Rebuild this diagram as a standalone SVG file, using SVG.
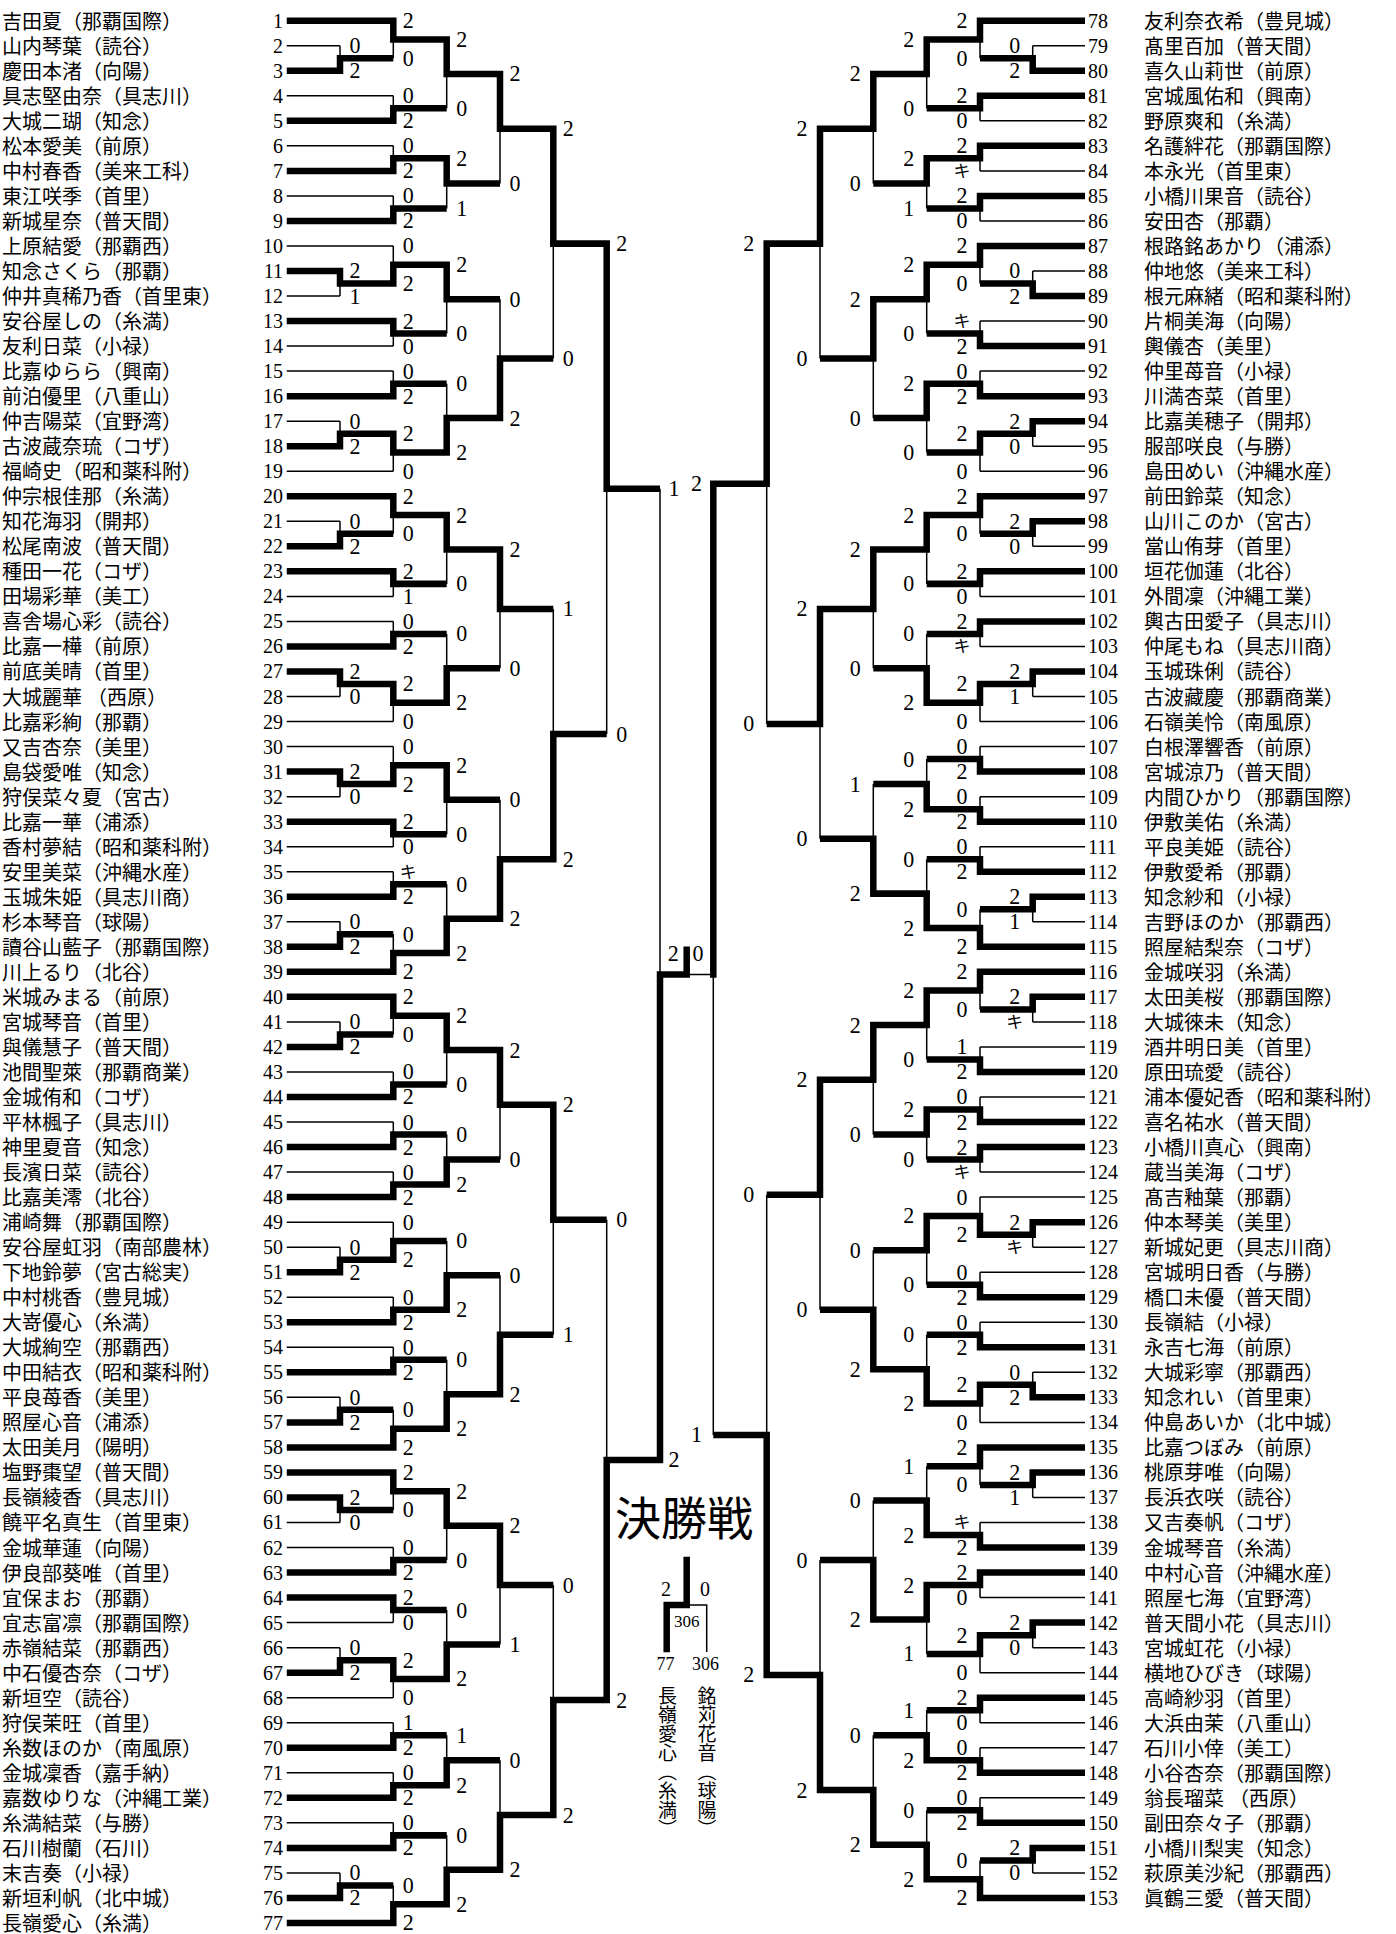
<svg xmlns="http://www.w3.org/2000/svg" width="1396" height="1934" viewBox="0 0 1396 1934">
<style>
.nm{font-family:"Liberation Serif","Noto Sans CJK JP",serif;font-size:20px;fill:#000}
.nl{text-anchor:end}
.no{font-family:"Liberation Serif",serif;font-size:20px;fill:#000}
.s{font-family:"Liberation Serif",serif;font-size:22px;text-anchor:middle;fill:#000}
.k{font-family:"Liberation Serif","Noto Sans CJK JP",serif;font-size:17px;text-anchor:middle;fill:#000}
.v{font-family:"Liberation Serif","Noto Sans CJK JP",serif;font-size:19px;writing-mode:vertical-rl;fill:#000}
.thick{fill:none;stroke:#000;stroke-width:6.5;stroke-linecap:square;stroke-linejoin:miter}
.thin{fill:none;stroke:#000;stroke-width:1.5;stroke-linecap:butt}
</style>
<rect width="1396" height="1934" fill="#fff"/>
<g transform="translate(0,20.7) scale(1,1.0012)">
<g id="connectors">
<path class="thin" d="M286.7,75H393.3M286.7,125H393.3M286.7,175H393.3M286.7,225H393.3M286.7,325H393.3M286.7,350H393.3M286.7,450H393.3M286.7,575H393.3M286.7,600H393.3M286.7,700H393.3M286.7,725H393.3M286.7,825H393.3M286.7,850H393.3M286.7,1050H393.3M286.7,1100H393.3M286.7,1150H393.3M286.7,1200H393.3M286.7,1275H393.3M286.7,1325H393.3M286.7,1525H393.3M286.7,1600H393.3M286.7,1675H393.3M286.7,1700H393.3M286.7,1750H393.3M286.7,1800H393.3
M286.7,25H340M286.7,275H340M286.7,400H340M286.7,500H340M286.7,675H340M286.7,775H340M286.7,900H340M286.7,1000H340M286.7,1225H340M286.7,1375H340M286.7,1500H340M286.7,1625H340M286.7,1850H340
M340,25V50M393.3,0V37.5M393.3,75V100M446.7,18.75V87.5M393.3,125V150M393.3,175V200M446.7,137.5V187.5M500,53.13V162.5M340,250V275M393.3,225V262.5M393.3,300V325M446.7,243.75V312.5M393.3,350V375M340,400V425M393.3,412.5V450M446.7,362.5V431.25M500,278.13V396.88M553.3,107.81V337.5M340,500V525M393.3,475V512.5M393.3,550V575M446.7,493.75V562.5M393.3,600V625M340,650V675M393.3,662.5V700M446.7,612.5V681.25M500,528.13V646.88M340,750V775M393.3,725V762.5M393.3,800V825M446.7,743.75V812.5M393.3,850V875M340,900V925M393.3,912.5V950M446.7,862.5V931.25M500,778.13V896.88M553.3,587.5V837.5M606.7,222.66V712.5M340,1000V1025M393.3,975V1012.5M393.3,1050V1075M446.7,993.75V1062.5M393.3,1100V1125M393.3,1150V1175M446.7,1112.5V1162.5M500,1028.13V1137.5M340,1225V1250M393.3,1200V1237.5M393.3,1275V1300M446.7,1218.75V1287.5M393.3,1325V1350M340,1375V1400M393.3,1387.5V1425M446.7,1337.5V1406.25M500,1253.13V1371.88M553.3,1082.81V1312.5M340,1475V1500M393.3,1450V1487.5M393.3,1525V1550M446.7,1468.75V1537.5M393.3,1575V1600M340,1625V1650M393.3,1637.5V1675M446.7,1587.5V1656.25M500,1503.13V1621.88M393.3,1700V1725M393.3,1750V1775M446.7,1712.5V1762.5M393.3,1800V1825M340,1850V1875M393.3,1862.5V1900M446.7,1812.5V1881.25M500,1737.5V1846.88M553.3,1562.5V1792.19M606.7,1197.66V1677.34M660,467.58V1437.5
M1085,100H980M1085,150H980M1085,200H980M1085,300H980M1085,350H980M1085,450H980M1085,575H980M1085,625H980M1085,700H980M1085,725H980M1085,775H980M1085,825H980M1085,1025H980M1085,1075H980M1085,1150H980M1085,1175H980M1085,1250H980M1085,1300H980M1085,1400H980M1085,1500H980M1085,1575H980M1085,1650H980M1085,1700H980M1085,1725H980M1085,1775H980
M1085,25H1032.7M1085,250H1032.7M1085,425H1032.7M1085,525H1032.7M1085,675H1032.7M1085,900H1032.7M1085,1000H1032.7M1085,1225H1032.7M1085,1350H1032.7M1085,1475H1032.7M1085,1625H1032.7M1085,1850H1032.7
M1032.7,25V50M980,0V37.5M980,75V100M926.7,18.75V87.5M980,125V150M980,175V200M926.7,137.5V187.5M873.3,53.13V162.5M1032.7,250V275M980,225V262.5M980,300V325M926.7,243.75V312.5M980,350V375M1032.7,400V425M980,412.5V450M926.7,362.5V431.25M873.3,278.13V396.88M820,107.81V337.5M1032.7,500V525M980,475V512.5M980,550V575M926.7,493.75V562.5M980,600V625M1032.7,650V675M980,662.5V700M926.7,612.5V681.25M873.3,528.13V646.88M980,725V750M980,775V800M926.7,737.5V787.5M980,825V850M1032.7,875V900M980,887.5V925M926.7,837.5V906.25M873.3,762.5V871.88M820,587.5V817.19M766.7,222.66V702.34M1032.7,975V1000M980,950V987.5M980,1025V1050M926.7,968.75V1037.5M980,1075V1100M980,1125V1150M926.7,1087.5V1137.5M873.3,1003.13V1112.5M1032.7,1200V1225M980,1175V1212.5M980,1250V1275M926.7,1193.75V1262.5M980,1300V1325M1032.7,1350V1375M980,1362.5V1400M926.7,1312.5V1381.25M873.3,1228.13V1346.88M820,1057.81V1287.5M1032.7,1450V1475M980,1425V1462.5M980,1500V1525M926.7,1443.75V1512.5M980,1550V1575M1032.7,1600V1625M980,1612.5V1650M926.7,1562.5V1631.25M873.3,1478.13V1596.88M980,1675V1700M980,1725V1750M926.7,1687.5V1737.5M980,1775V1800M1032.7,1825V1850M980,1837.5V1875M926.7,1787.5V1856.25M873.3,1712.5V1821.88M820,1537.5V1767.19M766.7,1172.66V1652.34M713.3,462.5V1412.5
M713.3,952.54H686.7"/>
<path class="thick" d="M290,0H393.3M290,100H393.3M290,150H393.3M290,200H393.3M290,300H393.3M290,375H393.3M290,475H393.3M290,550H393.3M290,625H393.3M290,800H393.3M290,875H393.3M290,950H393.3M290,975H393.3M290,1075H393.3M290,1125H393.3M290,1175H393.3M290,1300H393.3M290,1350H393.3M290,1425H393.3M290,1450H393.3M290,1550H393.3M290,1575H393.3M290,1725H393.3M290,1775H393.3M290,1825H393.3M290,1900H393.3
M290,50H340M290,250H340M290,425H340M290,525H340M290,650H340M290,750H340M290,925H340M290,1025H340M290,1250H340M290,1400H340M290,1475H340M290,1650H340M290,1875H340
M340,50V37.5H390.05M393.3,0V18.75H446.7M393.3,100V87.5H443.45M446.7,18.75V53.125H500M393.3,150V137.5H446.7M393.3,200V187.5H443.45M446.7,137.5V162.5H496.75M500,53.125V107.81H553.3M340,250V262.5H393.3M393.3,262.5V243.75H446.7M393.3,300V312.5H443.45M446.7,243.75V278.13H496.75M393.3,375V362.5H443.45M340,425V412.5H393.3M393.3,412.5V431.25H446.7M446.7,431.25V396.88H500M500,396.88V337.5H550.05M553.3,107.81V222.66H606.7
M340,525V512.5H390.05M393.3,475V493.75H446.7M393.3,550V562.5H443.45M446.7,493.75V528.13H500M393.3,625V612.5H443.45M340,650V662.5H393.3M393.3,662.5V681.25H446.7M446.7,681.25V646.88H496.75M500,528.13V587.5H550.05M340,750V762.5H393.3M393.3,762.5V743.75H446.7M393.3,800V812.5H443.45M446.7,743.75V778.13H496.75M393.3,875V862.5H443.45M340,925V912.5H390.05M393.3,950V931.25H446.7M446.7,931.25V896.88H500M500,896.88V837.5H553.3M553.3,837.5V712.5H603.45M606.7,222.66V467.58H656.75
M340,1025V1012.5H390.05M393.3,975V993.75H446.7M393.3,1075V1062.5H443.45M446.7,993.75V1028.13H500M393.3,1125V1112.5H443.45M393.3,1175V1162.5H446.7M446.7,1162.5V1137.5H496.75M500,1028.13V1082.81H553.3M340,1250V1237.5H393.3M393.3,1237.5V1218.75H443.45M393.3,1300V1287.5H446.7M446.7,1287.5V1253.13H496.75M393.3,1350V1337.5H443.45M340,1400V1387.5H390.05M393.3,1425V1406.25H446.7M446.7,1406.25V1371.88H500M500,1371.88V1312.5H550.05M553.3,1082.81V1197.66H603.45
M340,1475V1487.5H390.05M393.3,1450V1468.75H446.7M393.3,1550V1537.5H443.45M446.7,1468.75V1503.13H500M393.3,1575V1587.5H443.45M340,1650V1637.5H393.3M393.3,1637.5V1656.25H446.7M446.7,1656.25V1621.88H496.75M500,1503.13V1562.5H550.05M393.3,1725V1712.5H443.45M393.3,1775V1762.5H446.7M446.7,1762.5V1737.5H496.75M393.3,1825V1812.5H443.45M340,1875V1862.5H390.05M393.3,1900V1881.25H446.7M446.7,1881.25V1846.88H500M500,1846.88V1792.19H553.3M553.3,1792.19V1677.34H606.7M606.7,1677.34V1437.5H660M660,1437.5V952.54H686.7M686.7,952.54V928
M1081.75,0H980M1081.75,75H980M1081.75,125H980M1081.75,175H980M1081.75,225H980M1081.75,325H980M1081.75,375H980M1081.75,475H980M1081.75,550H980M1081.75,600H980M1081.75,750H980M1081.75,800H980M1081.75,850H980M1081.75,925H980M1081.75,950H980M1081.75,1050H980M1081.75,1100H980M1081.75,1125H980M1081.75,1275H980M1081.75,1325H980M1081.75,1425H980M1081.75,1525H980M1081.75,1550H980M1081.75,1675H980M1081.75,1750H980M1081.75,1800H980M1081.75,1875H980
M1081.75,50H1032.7M1081.75,275H1032.7M1081.75,400H1032.7M1081.75,500H1032.7M1081.75,650H1032.7M1081.75,875H1032.7M1081.75,975H1032.7M1081.75,1200H1032.7M1081.75,1375H1032.7M1081.75,1450H1032.7M1081.75,1600H1032.7M1081.75,1825H1032.7
M1032.7,50V37.5H983.25M980,0V18.75H926.7M980,75V87.5H929.95M926.7,18.75V53.13H873.3M980,125V137.5H926.7M980,175V187.5H929.95M926.7,137.5V162.5H876.55M873.3,53.13V107.81H820M1032.7,275V262.5H983.25M980,225V243.75H926.7M980,325V312.5H929.95M926.7,243.75V278.13H873.3M980,375V362.5H926.7M1032.7,400V412.5H980M980,412.5V431.25H929.95M926.7,362.5V396.88H876.55M873.3,278.13V337.5H823.25M820,107.81V222.66H766.7
M1032.7,500V512.5H983.25M980,475V493.75H926.7M980,550V562.5H929.95M926.7,493.75V528.13H873.3M980,600V612.5H929.95M1032.7,650V662.5H980M980,662.5V681.25H926.7M926.7,681.25V646.88H876.55M873.3,528.13V587.5H820M980,750V737.5H929.95M980,800V787.5H926.7M926.7,787.5V762.5H876.55M980,850V837.5H929.95M1032.7,875V887.5H983.25M980,925V906.25H926.7M926.7,906.25V871.88H873.3M873.3,871.88V817.19H823.25M820,587.5V702.34H769.95M766.7,222.66V462.5H713.3M713.3,462.5V952.54
M1032.7,975V987.5H983.25M980,950V968.75H926.7M980,1050V1037.5H929.95M926.7,968.75V1003.13H873.3M980,1100V1087.5H926.7M980,1125V1137.5H929.95M926.7,1087.5V1112.5H876.55M873.3,1003.13V1057.81H820M1032.7,1200V1212.5H980M980,1212.5V1193.75H926.7M980,1275V1262.5H929.95M926.7,1193.75V1228.13H876.55M980,1325V1312.5H929.95M1032.7,1375V1362.5H980M980,1362.5V1381.25H926.7M926.7,1381.25V1346.88H873.3M873.3,1346.88V1287.5H823.25M820,1057.81V1172.66H769.95
M1032.7,1450V1462.5H983.25M980,1425V1443.75H929.95M980,1525V1512.5H926.7M926.7,1512.5V1478.13H876.55M980,1550V1562.5H926.7M1032.7,1600V1612.5H980M980,1612.5V1631.25H929.95M926.7,1562.5V1596.88H873.3M873.3,1596.88V1537.5H823.25M980,1675V1687.5H929.95M980,1750V1737.5H926.7M926.7,1737.5V1712.5H876.55M980,1800V1787.5H929.95M1032.7,1825V1837.5H983.25M980,1875V1856.25H926.7M926.7,1856.25V1821.88H873.3M873.3,1821.88V1767.19H820M820,1767.19V1652.34H766.7M766.7,1652.34V1412.5H716.55"/>
</g>
<g id="scores">
<g class="s">
<text x="355" y="32.5">0</text><text x="355" y="57.5">2</text><text x="355" y="257.5">2</text><text x="355" y="282.5">1</text><text x="355" y="407.5">0</text><text x="355" y="432.5">2</text><text x="355" y="507.5">0</text><text x="355" y="532.5">2</text><text x="355" y="657.5">2</text><text x="355" y="682.5">0</text><text x="355" y="757.5">2</text><text x="355" y="782.5">0</text><text x="355" y="907.5">0</text><text x="355" y="932.5">2</text><text x="355" y="1007.5">0</text><text x="355" y="1032.5">2</text><text x="355" y="1232.5">0</text><text x="355" y="1257.5">2</text><text x="355" y="1382.5">0</text><text x="355" y="1407.5">2</text><text x="355" y="1482.5">2</text><text x="355" y="1507.5">0</text><text x="355" y="1632.5">0</text><text x="355" y="1657.5">2</text><text x="355" y="1857.5">0</text><text x="355" y="1882.5">2</text>
<text x="408.3" y="7.5">2</text><text x="408.3" y="45">0</text><text x="408.3" y="82.5">0</text><text x="408.3" y="107.5">2</text><text x="408.3" y="132.5">0</text><text x="408.3" y="157.5">2</text><text x="408.3" y="182.5">0</text><text x="408.3" y="207.5">2</text><text x="408.3" y="232.5">0</text><text x="408.3" y="270">2</text><text x="408.3" y="307.5">2</text><text x="408.3" y="332.5">0</text><text x="408.3" y="357.5">0</text><text x="408.3" y="382.5">2</text><text x="408.3" y="420">2</text><text x="408.3" y="457.5">0</text><text x="408.3" y="482.5">2</text><text x="408.3" y="520">0</text><text x="408.3" y="557.5">2</text><text x="408.3" y="582.5">1</text><text x="408.3" y="607.5">0</text><text x="408.3" y="632.5">2</text><text x="408.3" y="670">2</text><text x="408.3" y="707.5">0</text><text x="408.3" y="732.5">0</text><text x="408.3" y="770">2</text><text x="408.3" y="807.5">2</text><text x="408.3" y="832.5">0</text><text x="408.3" y="882.5">2</text><text x="408.3" y="920">0</text><text x="408.3" y="957.5">2</text><text x="408.3" y="982.5">2</text><text x="408.3" y="1020">0</text><text x="408.3" y="1057.5">0</text><text x="408.3" y="1082.5">2</text><text x="408.3" y="1107.5">0</text><text x="408.3" y="1132.5">2</text><text x="408.3" y="1157.5">0</text><text x="408.3" y="1182.5">2</text><text x="408.3" y="1207.5">0</text><text x="408.3" y="1245">2</text><text x="408.3" y="1282.5">0</text><text x="408.3" y="1307.5">2</text><text x="408.3" y="1332.5">0</text><text x="408.3" y="1357.5">2</text><text x="408.3" y="1395">0</text><text x="408.3" y="1432.5">2</text><text x="408.3" y="1457.5">2</text><text x="408.3" y="1495">0</text><text x="408.3" y="1532.5">0</text><text x="408.3" y="1557.5">2</text><text x="408.3" y="1582.5">2</text><text x="408.3" y="1607.5">0</text><text x="408.3" y="1645">2</text><text x="408.3" y="1682.5">0</text><text x="408.3" y="1707.5">1</text><text x="408.3" y="1732.5">2</text><text x="408.3" y="1757.5">0</text><text x="408.3" y="1782.5">2</text><text x="408.3" y="1807.5">0</text><text x="408.3" y="1832.5">2</text><text x="408.3" y="1870">0</text><text x="408.3" y="1907.5">2</text>
<text x="461.7" y="26.25">2</text><text x="461.7" y="95">0</text><text x="461.7" y="145">2</text><text x="461.7" y="195">1</text><text x="461.7" y="251.25">2</text><text x="461.7" y="320">0</text><text x="461.7" y="370">0</text><text x="461.7" y="438.75">2</text><text x="461.7" y="501.25">2</text><text x="461.7" y="570">0</text><text x="461.7" y="620">0</text><text x="461.7" y="688.75">2</text><text x="461.7" y="751.25">2</text><text x="461.7" y="820">0</text><text x="461.7" y="870">0</text><text x="461.7" y="938.75">2</text><text x="461.7" y="1001.25">2</text><text x="461.7" y="1070">0</text><text x="461.7" y="1120">0</text><text x="461.7" y="1170">2</text><text x="461.7" y="1226.25">0</text><text x="461.7" y="1295">2</text><text x="461.7" y="1345">0</text><text x="461.7" y="1413.75">2</text><text x="461.7" y="1476.25">2</text><text x="461.7" y="1545">0</text><text x="461.7" y="1595">0</text><text x="461.7" y="1663.75">2</text><text x="461.7" y="1720">1</text><text x="461.7" y="1770">2</text><text x="461.7" y="1820">0</text><text x="461.7" y="1888.75">2</text>
<text x="515" y="60.6">2</text><text x="515" y="170">0</text><text x="515" y="285.6">0</text><text x="515" y="404.4">2</text><text x="515" y="535.6">2</text><text x="515" y="654.4">0</text><text x="515" y="785.6">0</text><text x="515" y="904.4">2</text><text x="515" y="1035.6">2</text><text x="515" y="1145">0</text><text x="515" y="1260.6">0</text><text x="515" y="1379.4">2</text><text x="515" y="1510.6">2</text><text x="515" y="1629.4">1</text><text x="515" y="1745">0</text><text x="515" y="1854.4">2</text>
<text x="568.3" y="115.3">2</text><text x="568.3" y="345">0</text><text x="568.3" y="595">1</text><text x="568.3" y="845">2</text><text x="568.3" y="1090.3">2</text><text x="568.3" y="1320">1</text><text x="568.3" y="1570">0</text><text x="568.3" y="1799.7">2</text>
<text x="621.7" y="230.2">2</text><text x="621.7" y="720">0</text><text x="621.7" y="1205.2">0</text><text x="621.7" y="1684.8">2</text>
<text x="674" y="475.1">1</text><text x="674" y="1445">2</text>
<text x="673.3" y="939">2</text><text x="698" y="939">0</text>
<text x="1014.7" y="32.5">0</text><text x="1014.7" y="57.5">2</text><text x="1014.7" y="257.5">0</text><text x="1014.7" y="282.5">2</text><text x="1014.7" y="407.5">2</text><text x="1014.7" y="432.5">0</text><text x="1014.7" y="507.5">2</text><text x="1014.7" y="532.5">0</text><text x="1014.7" y="657.5">2</text><text x="1014.7" y="682.5">1</text><text x="1014.7" y="882.5">2</text><text x="1014.7" y="907.5">1</text><text x="1014.7" y="982.5">2</text><text x="1014.7" y="1207.5">2</text><text x="1014.7" y="1357.5">0</text><text x="1014.7" y="1382.5">2</text><text x="1014.7" y="1457.5">2</text><text x="1014.7" y="1482.5">1</text><text x="1014.7" y="1607.5">2</text><text x="1014.7" y="1632.5">0</text><text x="1014.7" y="1832.5">2</text><text x="1014.7" y="1857.5">0</text>
<text x="962" y="7.5">2</text><text x="962" y="45">0</text><text x="962" y="82.5">2</text><text x="962" y="107.5">0</text><text x="962" y="132.5">2</text><text x="962" y="182.5">2</text><text x="962" y="207.5">0</text><text x="962" y="232.5">2</text><text x="962" y="270">0</text><text x="962" y="332.5">2</text><text x="962" y="357.5">0</text><text x="962" y="382.5">2</text><text x="962" y="420">2</text><text x="962" y="457.5">0</text><text x="962" y="482.5">2</text><text x="962" y="520">0</text><text x="962" y="557.5">2</text><text x="962" y="582.5">0</text><text x="962" y="607.5">2</text><text x="962" y="670">2</text><text x="962" y="707.5">0</text><text x="962" y="732.5">0</text><text x="962" y="757.5">2</text><text x="962" y="782.5">0</text><text x="962" y="807.5">2</text><text x="962" y="832.5">0</text><text x="962" y="857.5">2</text><text x="962" y="895">0</text><text x="962" y="932.5">2</text><text x="962" y="957.5">2</text><text x="962" y="995">0</text><text x="962" y="1032.5">1</text><text x="962" y="1057.5">2</text><text x="962" y="1082.5">0</text><text x="962" y="1107.5">2</text><text x="962" y="1132.5">2</text><text x="962" y="1182.5">0</text><text x="962" y="1220">2</text><text x="962" y="1257.5">0</text><text x="962" y="1282.5">2</text><text x="962" y="1307.5">0</text><text x="962" y="1332.5">2</text><text x="962" y="1370">2</text><text x="962" y="1407.5">0</text><text x="962" y="1432.5">2</text><text x="962" y="1470">0</text><text x="962" y="1532.5">2</text><text x="962" y="1557.5">2</text><text x="962" y="1582.5">0</text><text x="962" y="1620">2</text><text x="962" y="1657.5">0</text><text x="962" y="1682.5">2</text><text x="962" y="1707.5">0</text><text x="962" y="1732.5">0</text><text x="962" y="1757.5">2</text><text x="962" y="1782.5">0</text><text x="962" y="1807.5">2</text><text x="962" y="1845">0</text><text x="962" y="1882.5">2</text>
<text x="908.7" y="26.25">2</text><text x="908.7" y="95">0</text><text x="908.7" y="145">2</text><text x="908.7" y="195">1</text><text x="908.7" y="251.25">2</text><text x="908.7" y="320">0</text><text x="908.7" y="370">2</text><text x="908.7" y="438.75">0</text><text x="908.7" y="501.25">2</text><text x="908.7" y="570">0</text><text x="908.7" y="620">0</text><text x="908.7" y="688.75">2</text><text x="908.7" y="745">0</text><text x="908.7" y="795">2</text><text x="908.7" y="845">0</text><text x="908.7" y="913.75">2</text><text x="908.7" y="976.25">2</text><text x="908.7" y="1045">0</text><text x="908.7" y="1095">2</text><text x="908.7" y="1145">0</text><text x="908.7" y="1201.25">2</text><text x="908.7" y="1270">0</text><text x="908.7" y="1320">0</text><text x="908.7" y="1388.75">2</text><text x="908.7" y="1451.25">1</text><text x="908.7" y="1520">2</text><text x="908.7" y="1570">2</text><text x="908.7" y="1638.75">1</text><text x="908.7" y="1695">1</text><text x="908.7" y="1745">2</text><text x="908.7" y="1795">0</text><text x="908.7" y="1863.75">2</text>
<text x="855.3" y="60.6">2</text><text x="855.3" y="170">0</text><text x="855.3" y="285.6">2</text><text x="855.3" y="404.4">0</text><text x="855.3" y="535.6">2</text><text x="855.3" y="654.4">0</text><text x="855.3" y="770">1</text><text x="855.3" y="879.4">2</text><text x="855.3" y="1010.6">2</text><text x="855.3" y="1120">0</text><text x="855.3" y="1235.6">0</text><text x="855.3" y="1354.4">2</text><text x="855.3" y="1485.6">0</text><text x="855.3" y="1604.4">2</text><text x="855.3" y="1720">0</text><text x="855.3" y="1829.4">2</text>
<text x="802" y="115.3">2</text><text x="802" y="345">0</text><text x="802" y="595">2</text><text x="802" y="824.7">0</text><text x="802" y="1065.3">2</text><text x="802" y="1295">0</text><text x="802" y="1545">0</text><text x="802" y="1774.7">2</text>
<text x="748.7" y="230.2">2</text><text x="748.7" y="709.8">0</text><text x="748.7" y="1180.2">0</text><text x="748.7" y="1659.8">2</text>
<text x="696.5" y="470">2</text><text x="696.5" y="1420">1</text>
</g>
<g class="k">
<text x="408.3" y="856">キ</text><text x="962" y="156">キ</text><text x="962" y="306">キ</text><text x="962" y="631">キ</text><text x="1014.7" y="1006">キ</text><text x="962" y="1156">キ</text><text x="1014.7" y="1231">キ</text><text x="962" y="1506">キ</text>
</g>
</g>
<g id="players-left">
<g id="p1"><text class="nm" x="2" y="8">吉田夏（那覇国際）</text><text class="no nl" x="283" y="7">1</text></g>
<g id="p2"><text class="nm" x="2" y="33">山内琴葉（読谷）</text><text class="no nl" x="283" y="32">2</text></g>
<g id="p3"><text class="nm" x="2" y="58">慶田本渚（向陽）</text><text class="no nl" x="283" y="57">3</text></g>
<g id="p4"><text class="nm" x="2" y="83">具志堅由奈（具志川）</text><text class="no nl" x="283" y="82">4</text></g>
<g id="p5"><text class="nm" x="2" y="108">大城二瑚（知念）</text><text class="no nl" x="283" y="107">5</text></g>
<g id="p6"><text class="nm" x="2" y="133">松本愛美（前原）</text><text class="no nl" x="283" y="132">6</text></g>
<g id="p7"><text class="nm" x="2" y="158">中村春香（美来工科）</text><text class="no nl" x="283" y="157">7</text></g>
<g id="p8"><text class="nm" x="2" y="183">東江咲季（首里）</text><text class="no nl" x="283" y="182">8</text></g>
<g id="p9"><text class="nm" x="2" y="208">新城星奈（普天間）</text><text class="no nl" x="283" y="207">9</text></g>
<g id="p10"><text class="nm" x="2" y="233">上原結愛（那覇西）</text><text class="no nl" x="283" y="232">10</text></g>
<g id="p11"><text class="nm" x="2" y="258">知念さくら（那覇）</text><text class="no nl" x="283" y="257">11</text></g>
<g id="p12"><text class="nm" x="2" y="283">仲井真稀乃香（首里東）</text><text class="no nl" x="283" y="282">12</text></g>
<g id="p13"><text class="nm" x="2" y="308">安谷屋しの（糸満）</text><text class="no nl" x="283" y="307">13</text></g>
<g id="p14"><text class="nm" x="2" y="333">友利日菜（小禄）</text><text class="no nl" x="283" y="332">14</text></g>
<g id="p15"><text class="nm" x="2" y="358">比嘉ゆらら（興南）</text><text class="no nl" x="283" y="357">15</text></g>
<g id="p16"><text class="nm" x="2" y="383">前泊優里（八重山）</text><text class="no nl" x="283" y="382">16</text></g>
<g id="p17"><text class="nm" x="2" y="408">仲吉陽菜（宜野湾）</text><text class="no nl" x="283" y="407">17</text></g>
<g id="p18"><text class="nm" x="2" y="433">古波蔵奈琉（コザ）</text><text class="no nl" x="283" y="432">18</text></g>
<g id="p19"><text class="nm" x="2" y="458">福崎史（昭和薬科附）</text><text class="no nl" x="283" y="457">19</text></g>
<g id="p20"><text class="nm" x="2" y="483">仲宗根佳那（糸満）</text><text class="no nl" x="283" y="482">20</text></g>
<g id="p21"><text class="nm" x="2" y="508">知花海羽（開邦）</text><text class="no nl" x="283" y="507">21</text></g>
<g id="p22"><text class="nm" x="2" y="533">松尾南波（普天間）</text><text class="no nl" x="283" y="532">22</text></g>
<g id="p23"><text class="nm" x="2" y="558">種田一花（コザ）</text><text class="no nl" x="283" y="557">23</text></g>
<g id="p24"><text class="nm" x="2" y="583">田場彩華（美工）</text><text class="no nl" x="283" y="582">24</text></g>
<g id="p25"><text class="nm" x="2" y="608">喜舎場心彩（読谷）</text><text class="no nl" x="283" y="607">25</text></g>
<g id="p26"><text class="nm" x="2" y="633">比嘉一樺（前原）</text><text class="no nl" x="283" y="632">26</text></g>
<g id="p27"><text class="nm" x="2" y="658">前底美晴（首里）</text><text class="no nl" x="283" y="657">27</text></g>
<g id="p28"><text class="nm" x="2" y="683">大城麗華 （西原）</text><text class="no nl" x="283" y="682">28</text></g>
<g id="p29"><text class="nm" x="2" y="708">比嘉彩絢（那覇）</text><text class="no nl" x="283" y="707">29</text></g>
<g id="p30"><text class="nm" x="2" y="733">又吉杏奈（美里）</text><text class="no nl" x="283" y="732">30</text></g>
<g id="p31"><text class="nm" x="2" y="758">島袋愛唯（知念）</text><text class="no nl" x="283" y="757">31</text></g>
<g id="p32"><text class="nm" x="2" y="783">狩俣菜々夏（宮古）</text><text class="no nl" x="283" y="782">32</text></g>
<g id="p33"><text class="nm" x="2" y="808">比嘉一華（浦添）</text><text class="no nl" x="283" y="807">33</text></g>
<g id="p34"><text class="nm" x="2" y="833">香村夢結（昭和薬科附）</text><text class="no nl" x="283" y="832">34</text></g>
<g id="p35"><text class="nm" x="2" y="858">安里美菜（沖縄水産）</text><text class="no nl" x="283" y="857">35</text></g>
<g id="p36"><text class="nm" x="2" y="883">玉城朱姫（具志川商）</text><text class="no nl" x="283" y="882">36</text></g>
<g id="p37"><text class="nm" x="2" y="908">杉本琴音（球陽）</text><text class="no nl" x="283" y="907">37</text></g>
<g id="p38"><text class="nm" x="2" y="933">讀谷山藍子（那覇国際）</text><text class="no nl" x="283" y="932">38</text></g>
<g id="p39"><text class="nm" x="2" y="958">川上るり（北谷）</text><text class="no nl" x="283" y="957">39</text></g>
<g id="p40"><text class="nm" x="2" y="983">米城みまる（前原）</text><text class="no nl" x="283" y="982">40</text></g>
<g id="p41"><text class="nm" x="2" y="1008">宮城琴音（首里）</text><text class="no nl" x="283" y="1007">41</text></g>
<g id="p42"><text class="nm" x="2" y="1033">與儀慧子（普天間）</text><text class="no nl" x="283" y="1032">42</text></g>
<g id="p43"><text class="nm" x="2" y="1058">池間聖萊（那覇商業）</text><text class="no nl" x="283" y="1057">43</text></g>
<g id="p44"><text class="nm" x="2" y="1083">金城侑和（コザ）</text><text class="no nl" x="283" y="1082">44</text></g>
<g id="p45"><text class="nm" x="2" y="1108">平林楓子（具志川）</text><text class="no nl" x="283" y="1107">45</text></g>
<g id="p46"><text class="nm" x="2" y="1133">神里夏音（知念）</text><text class="no nl" x="283" y="1132">46</text></g>
<g id="p47"><text class="nm" x="2" y="1158">長濱日菜（読谷）</text><text class="no nl" x="283" y="1157">47</text></g>
<g id="p48"><text class="nm" x="2" y="1183">比嘉美澪（北谷）</text><text class="no nl" x="283" y="1182">48</text></g>
<g id="p49"><text class="nm" x="2" y="1208">浦崎舞（那覇国際）</text><text class="no nl" x="283" y="1207">49</text></g>
<g id="p50"><text class="nm" x="2" y="1233">安谷屋虹羽（南部農林）</text><text class="no nl" x="283" y="1232">50</text></g>
<g id="p51"><text class="nm" x="2" y="1258">下地鈴夢（宮古総実）</text><text class="no nl" x="283" y="1257">51</text></g>
<g id="p52"><text class="nm" x="2" y="1283">中村桃香（豊見城）</text><text class="no nl" x="283" y="1282">52</text></g>
<g id="p53"><text class="nm" x="2" y="1308">大嵜優心（糸満）</text><text class="no nl" x="283" y="1307">53</text></g>
<g id="p54"><text class="nm" x="2" y="1333">大城絢空（那覇西）</text><text class="no nl" x="283" y="1332">54</text></g>
<g id="p55"><text class="nm" x="2" y="1358">中田結衣（昭和薬科附）</text><text class="no nl" x="283" y="1357">55</text></g>
<g id="p56"><text class="nm" x="2" y="1383">平良苺香（美里）</text><text class="no nl" x="283" y="1382">56</text></g>
<g id="p57"><text class="nm" x="2" y="1408">照屋心音（浦添）</text><text class="no nl" x="283" y="1407">57</text></g>
<g id="p58"><text class="nm" x="2" y="1433">太田美月（陽明）</text><text class="no nl" x="283" y="1432">58</text></g>
<g id="p59"><text class="nm" x="2" y="1458">塩野棗望（普天間）</text><text class="no nl" x="283" y="1457">59</text></g>
<g id="p60"><text class="nm" x="2" y="1483">長嶺綾香（具志川）</text><text class="no nl" x="283" y="1482">60</text></g>
<g id="p61"><text class="nm" x="2" y="1508">饒平名真生（首里東）</text><text class="no nl" x="283" y="1507">61</text></g>
<g id="p62"><text class="nm" x="2" y="1533">金城華蓮（向陽）</text><text class="no nl" x="283" y="1532">62</text></g>
<g id="p63"><text class="nm" x="2" y="1558">伊良部葵唯（首里）</text><text class="no nl" x="283" y="1557">63</text></g>
<g id="p64"><text class="nm" x="2" y="1583">宜保まお（那覇）</text><text class="no nl" x="283" y="1582">64</text></g>
<g id="p65"><text class="nm" x="2" y="1608">宜志富凛（那覇国際）</text><text class="no nl" x="283" y="1607">65</text></g>
<g id="p66"><text class="nm" x="2" y="1633">赤嶺結菜（那覇西）</text><text class="no nl" x="283" y="1632">66</text></g>
<g id="p67"><text class="nm" x="2" y="1658">中石優杏奈（コザ）</text><text class="no nl" x="283" y="1657">67</text></g>
<g id="p68"><text class="nm" x="2" y="1683">新垣空（読谷）</text><text class="no nl" x="283" y="1682">68</text></g>
<g id="p69"><text class="nm" x="2" y="1708">狩俣茉旺（首里）</text><text class="no nl" x="283" y="1707">69</text></g>
<g id="p70"><text class="nm" x="2" y="1733">糸数ほのか（南風原）</text><text class="no nl" x="283" y="1732">70</text></g>
<g id="p71"><text class="nm" x="2" y="1758">金城凜香（嘉手納）</text><text class="no nl" x="283" y="1757">71</text></g>
<g id="p72"><text class="nm" x="2" y="1783">嘉数ゆりな（沖縄工業）</text><text class="no nl" x="283" y="1782">72</text></g>
<g id="p73"><text class="nm" x="2" y="1808">糸満結菜（与勝）</text><text class="no nl" x="283" y="1807">73</text></g>
<g id="p74"><text class="nm" x="2" y="1833">石川樹蘭（石川）</text><text class="no nl" x="283" y="1832">74</text></g>
<g id="p75"><text class="nm" x="2" y="1858">末吉奏（小禄）</text><text class="no nl" x="283" y="1857">75</text></g>
<g id="p76"><text class="nm" x="2" y="1883">新垣利帆（北中城）</text><text class="no nl" x="283" y="1882">76</text></g>
<g id="p77"><text class="nm" x="2" y="1908">長嶺愛心（糸満）</text><text class="no nl" x="283" y="1907">77</text></g>
</g>
<g id="players-right">
<g id="p78"><text class="no" x="1088" y="7">78</text><text class="nm" x="1144" y="8">友利奈衣希（豊見城）</text></g>
<g id="p79"><text class="no" x="1088" y="32">79</text><text class="nm" x="1144" y="33">髙里百加（普天間）</text></g>
<g id="p80"><text class="no" x="1088" y="57">80</text><text class="nm" x="1144" y="58">喜久山莉世（前原）</text></g>
<g id="p81"><text class="no" x="1088" y="82">81</text><text class="nm" x="1144" y="83">宮城風佑和（興南）</text></g>
<g id="p82"><text class="no" x="1088" y="107">82</text><text class="nm" x="1144" y="108">野原爽和（糸満）</text></g>
<g id="p83"><text class="no" x="1088" y="132">83</text><text class="nm" x="1144" y="133">名護絆花（那覇国際）</text></g>
<g id="p84"><text class="no" x="1088" y="157">84</text><text class="nm" x="1144" y="158">本永光（首里東）</text></g>
<g id="p85"><text class="no" x="1088" y="182">85</text><text class="nm" x="1144" y="183">小橋川果音（読谷）</text></g>
<g id="p86"><text class="no" x="1088" y="207">86</text><text class="nm" x="1144" y="208">安田杏（那覇）</text></g>
<g id="p87"><text class="no" x="1088" y="232">87</text><text class="nm" x="1144" y="233">根路銘あかり（浦添）</text></g>
<g id="p88"><text class="no" x="1088" y="257">88</text><text class="nm" x="1144" y="258">仲地悠（美来工科）</text></g>
<g id="p89"><text class="no" x="1088" y="282">89</text><text class="nm" x="1144" y="283">根元麻緒（昭和薬科附）</text></g>
<g id="p90"><text class="no" x="1088" y="307">90</text><text class="nm" x="1144" y="308">片桐美海（向陽）</text></g>
<g id="p91"><text class="no" x="1088" y="332">91</text><text class="nm" x="1144" y="333">輿儀杏（美里）</text></g>
<g id="p92"><text class="no" x="1088" y="357">92</text><text class="nm" x="1144" y="358">仲里苺音（小禄）</text></g>
<g id="p93"><text class="no" x="1088" y="382">93</text><text class="nm" x="1144" y="383">川満杏菜（首里）</text></g>
<g id="p94"><text class="no" x="1088" y="407">94</text><text class="nm" x="1144" y="408">比嘉美穂子（開邦）</text></g>
<g id="p95"><text class="no" x="1088" y="432">95</text><text class="nm" x="1144" y="433">服部咲良（与勝）</text></g>
<g id="p96"><text class="no" x="1088" y="457">96</text><text class="nm" x="1144" y="458">島田めい（沖縄水産）</text></g>
<g id="p97"><text class="no" x="1088" y="482">97</text><text class="nm" x="1144" y="483">前田鈴菜（知念）</text></g>
<g id="p98"><text class="no" x="1088" y="507">98</text><text class="nm" x="1144" y="508">山川このか（宮古）</text></g>
<g id="p99"><text class="no" x="1088" y="532">99</text><text class="nm" x="1144" y="533">當山侑芽（首里）</text></g>
<g id="p100"><text class="no" x="1088" y="557">100</text><text class="nm" x="1144" y="558">垣花伽蓮（北谷）</text></g>
<g id="p101"><text class="no" x="1088" y="582">101</text><text class="nm" x="1144" y="583">外間凜（沖縄工業）</text></g>
<g id="p102"><text class="no" x="1088" y="607">102</text><text class="nm" x="1144" y="608">輿古田愛子（具志川）</text></g>
<g id="p103"><text class="no" x="1088" y="632">103</text><text class="nm" x="1144" y="633">仲尾もね（具志川商）</text></g>
<g id="p104"><text class="no" x="1088" y="657">104</text><text class="nm" x="1144" y="658">玉城珠俐（読谷）</text></g>
<g id="p105"><text class="no" x="1088" y="682">105</text><text class="nm" x="1144" y="683">古波藏慶（那覇商業）</text></g>
<g id="p106"><text class="no" x="1088" y="707">106</text><text class="nm" x="1144" y="708">石嶺美怜（南風原）</text></g>
<g id="p107"><text class="no" x="1088" y="732">107</text><text class="nm" x="1144" y="733">白根澤響香（前原）</text></g>
<g id="p108"><text class="no" x="1088" y="757">108</text><text class="nm" x="1144" y="758">宮城涼乃（普天間）</text></g>
<g id="p109"><text class="no" x="1088" y="782">109</text><text class="nm" x="1144" y="783">内間ひかり（那覇国際）</text></g>
<g id="p110"><text class="no" x="1088" y="807">110</text><text class="nm" x="1144" y="808">伊敷美佑（糸満）</text></g>
<g id="p111"><text class="no" x="1088" y="832">111</text><text class="nm" x="1144" y="833">平良美姫（読谷）</text></g>
<g id="p112"><text class="no" x="1088" y="857">112</text><text class="nm" x="1144" y="858">伊敷愛希（那覇）</text></g>
<g id="p113"><text class="no" x="1088" y="882">113</text><text class="nm" x="1144" y="883">知念紗和（小禄）</text></g>
<g id="p114"><text class="no" x="1088" y="907">114</text><text class="nm" x="1144" y="908">吉野ほのか（那覇西）</text></g>
<g id="p115"><text class="no" x="1088" y="932">115</text><text class="nm" x="1144" y="933">照屋結梨奈（コザ）</text></g>
<g id="p116"><text class="no" x="1088" y="957">116</text><text class="nm" x="1144" y="958">金城咲羽（糸満）</text></g>
<g id="p117"><text class="no" x="1088" y="982">117</text><text class="nm" x="1144" y="983">太田美桜（那覇国際）</text></g>
<g id="p118"><text class="no" x="1088" y="1007">118</text><text class="nm" x="1144" y="1008">大城徠未（知念）</text></g>
<g id="p119"><text class="no" x="1088" y="1032">119</text><text class="nm" x="1144" y="1033">酒井明日美（首里）</text></g>
<g id="p120"><text class="no" x="1088" y="1057">120</text><text class="nm" x="1144" y="1058">原田琉愛（読谷）</text></g>
<g id="p121"><text class="no" x="1088" y="1082">121</text><text class="nm" x="1144" y="1083">浦本優妃香（昭和薬科附）</text></g>
<g id="p122"><text class="no" x="1088" y="1107">122</text><text class="nm" x="1144" y="1108">喜名祐水（普天間）</text></g>
<g id="p123"><text class="no" x="1088" y="1132">123</text><text class="nm" x="1144" y="1133">小橋川真心（興南）</text></g>
<g id="p124"><text class="no" x="1088" y="1157">124</text><text class="nm" x="1144" y="1158">蔵当美海（コザ）</text></g>
<g id="p125"><text class="no" x="1088" y="1182">125</text><text class="nm" x="1144" y="1183">髙吉釉葉（那覇）</text></g>
<g id="p126"><text class="no" x="1088" y="1207">126</text><text class="nm" x="1144" y="1208">仲本琴美（美里）</text></g>
<g id="p127"><text class="no" x="1088" y="1232">127</text><text class="nm" x="1144" y="1233">新城妃更（具志川商）</text></g>
<g id="p128"><text class="no" x="1088" y="1257">128</text><text class="nm" x="1144" y="1258">宮城明日香（与勝）</text></g>
<g id="p129"><text class="no" x="1088" y="1282">129</text><text class="nm" x="1144" y="1283">橋口未優（普天間）</text></g>
<g id="p130"><text class="no" x="1088" y="1307">130</text><text class="nm" x="1144" y="1308">長嶺結（小禄）</text></g>
<g id="p131"><text class="no" x="1088" y="1332">131</text><text class="nm" x="1144" y="1333">永吉七海（前原）</text></g>
<g id="p132"><text class="no" x="1088" y="1357">132</text><text class="nm" x="1144" y="1358">大城彩寧（那覇西）</text></g>
<g id="p133"><text class="no" x="1088" y="1382">133</text><text class="nm" x="1144" y="1383">知念れい（首里東）</text></g>
<g id="p134"><text class="no" x="1088" y="1407">134</text><text class="nm" x="1144" y="1408">仲島あいか（北中城）</text></g>
<g id="p135"><text class="no" x="1088" y="1432">135</text><text class="nm" x="1144" y="1433">比嘉つぼみ（前原）</text></g>
<g id="p136"><text class="no" x="1088" y="1457">136</text><text class="nm" x="1144" y="1458">桃原芽唯（向陽）</text></g>
<g id="p137"><text class="no" x="1088" y="1482">137</text><text class="nm" x="1144" y="1483">長浜衣咲（読谷）</text></g>
<g id="p138"><text class="no" x="1088" y="1507">138</text><text class="nm" x="1144" y="1508">又吉奏帆（コザ）</text></g>
<g id="p139"><text class="no" x="1088" y="1532">139</text><text class="nm" x="1144" y="1533">金城琴音（糸満）</text></g>
<g id="p140"><text class="no" x="1088" y="1557">140</text><text class="nm" x="1144" y="1558">中村心音（沖縄水産）</text></g>
<g id="p141"><text class="no" x="1088" y="1582">141</text><text class="nm" x="1144" y="1583">照屋七海（宜野湾）</text></g>
<g id="p142"><text class="no" x="1088" y="1607">142</text><text class="nm" x="1144" y="1608">普天間小花（具志川）</text></g>
<g id="p143"><text class="no" x="1088" y="1632">143</text><text class="nm" x="1144" y="1633">宮城虹花（小禄）</text></g>
<g id="p144"><text class="no" x="1088" y="1657">144</text><text class="nm" x="1144" y="1658">横地ひびき（球陽）</text></g>
<g id="p145"><text class="no" x="1088" y="1682">145</text><text class="nm" x="1144" y="1683">高崎紗羽（首里）</text></g>
<g id="p146"><text class="no" x="1088" y="1707">146</text><text class="nm" x="1144" y="1708">大浜由茉（八重山）</text></g>
<g id="p147"><text class="no" x="1088" y="1732">147</text><text class="nm" x="1144" y="1733">石川小倖（美工）</text></g>
<g id="p148"><text class="no" x="1088" y="1757">148</text><text class="nm" x="1144" y="1758">小谷杏奈（那覇国際）</text></g>
<g id="p149"><text class="no" x="1088" y="1782">149</text><text class="nm" x="1144" y="1783">翁長瑠菜 （西原）</text></g>
<g id="p150"><text class="no" x="1088" y="1807">150</text><text class="nm" x="1144" y="1808">副田奈々子（那覇）</text></g>
<g id="p151"><text class="no" x="1088" y="1832">151</text><text class="nm" x="1144" y="1833">小橋川梨実（知念）</text></g>
<g id="p152"><text class="no" x="1088" y="1857">152</text><text class="nm" x="1144" y="1858">萩原美沙紀（那覇西）</text></g>
<g id="p153"><text class="no" x="1088" y="1882">153</text><text class="nm" x="1144" y="1883">眞鶴三愛（普天間）</text></g>
</g>
</g>
<g id="final-summary">
<text x="615" y="1535" style="font-family:'Noto Sans CJK JP',sans-serif;font-size:46px">決勝戦</text>
<path class="thick" d="M686.7,1560V1605H666.7V1649"/>
<path class="thin" d="M686.7,1605H706.7V1652"/>
<text class="no" x="666" y="1596" text-anchor="middle">2</text>
<text class="no" x="705" y="1596" text-anchor="middle">0</text>
<text class="no" x="686.7" y="1627" text-anchor="middle" style="font-size:17px">306</text>
<text class="no" x="665.5" y="1670" text-anchor="middle" style="font-size:18px">77</text>
<text class="no" x="705.5" y="1670" text-anchor="middle" style="font-size:18px">306</text>
<text class="v" x="665.5" y="1686">長嶺愛心（糸満）</text>
<text class="v" x="705" y="1686">銘苅花音（球陽）</text>
</g>
</svg>
